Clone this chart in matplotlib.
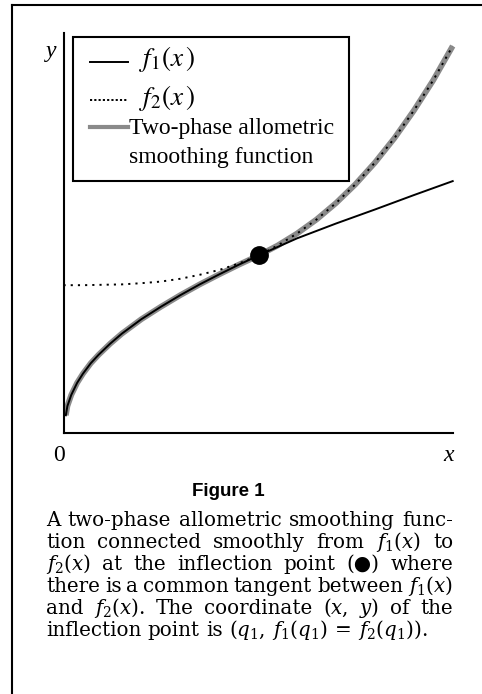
import matplotlib
matplotlib.use("Agg")
import matplotlib.pyplot as plt
from matplotlib.lines import Line2D
from matplotlib.patches import Rectangle

# curve values (axis units: x 0..1, y 0..1)
f1_x = [0.006, 0.01, 0.02, 0.035, 0.05, 0.07, 0.09, 0.12, 0.15, 0.20, 0.25, 0.30,
        0.35, 0.40, 0.45, 0.503, 0.60, 0.70, 0.80, 0.90, 1.00]
f1_y = [0.045, 0.068, 0.096, 0.126, 0.149, 0.175, 0.196, 0.224, 0.249, 0.285, 0.316, 0.345,
        0.372, 0.397, 0.421, 0.445, 0.487, 0.524, 0.559, 0.595, 0.630]
f2_x = [0.0, 0.05, 0.10, 0.15, 0.20, 0.25, 0.30, 0.35, 0.40, 0.45, 0.503, 0.55,
        0.60, 0.65, 0.70, 0.75, 0.80, 0.85, 0.90, 0.95, 1.00]
f2_y = [0.370, 0.370, 0.371, 0.372, 0.375, 0.379, 0.386, 0.396, 0.408, 0.424, 0.445, 0.469,
        0.499, 0.534, 0.575, 0.622, 0.676, 0.737, 0.806, 0.882, 0.9675]

# inflection point q1
q1_x = 0.503
q1_y = 0.445

# two-phase smoothing curve: f1 up to q1, f2 after it
smooth_x = [x for x in f1_x if x <= q1_x] + [x for x in f2_x if x > q1_x]
smooth_y = [y for x, y in zip(f1_x, f1_y) if x <= q1_x] + [y for x, y in zip(f2_x, f2_y) if x > q1_x]

W, H = 482, 694


def fx(px):
    return px / W


def fy(py):
    return 1 - py / H


fig = plt.figure(figsize=(W / 100, H / 100), dpi=100)

ax = fig.add_axes([fx(63.5), fy(433.3), (452.7 - 63.5) / W, (433.3 - 33) / H])
ax.set_xlim(0, 1)
ax.set_ylim(0, 1)
ax.patch.set_alpha(0)
for s in ["top", "right"]:
    ax.spines[s].set_visible(False)
for s in ["left", "bottom"]:
    ax.spines[s].set_linewidth(1.5)
ax.set_xticks([])
ax.set_yticks([])

grey = "#8a8a8a"
ax.plot(smooth_x, smooth_y, color=grey, lw=4.2, solid_capstyle="butt", clip_on=False, zorder=2)
ax.plot(f1_x, f1_y, color="black", lw=1.4, clip_on=False, zorder=3)
ax.plot(f2_x, f2_y, color="black", lw=1.4, linestyle=(0, (1.1, 2.6)), clip_on=False, zorder=4)
ax.plot([q1_x], [q1_y], "o", color="black", markersize=12.5, zorder=5, clip_on=False)

# axis labels
serif = "Liberation Serif"
fig.text(fx(51), fy(57), "y", fontsize=17, family=serif, style="italic", ha="center", va="baseline")
fig.text(fx(59), fy(461), "0", fontsize=17, family=serif, ha="center", va="baseline")
fig.text(fx(448.5), fy(461), "x", fontsize=17, family=serif, style="italic", ha="center", va="baseline")

# legend box
fig.add_artist(Rectangle((fx(73.3), fy(181)), fx(348.5) - fx(73.3), fy(36.7) - fy(181),
                         transform=fig.transFigure, fill=False, lw=1.5, ec="black"))
fig.add_artist(Line2D([fx(90), fx(128)], [fy(61.7)] * 2, transform=fig.transFigure,
                      color="black", lw=1.4))
fig.add_artist(Line2D([fx(90), fx(128)], [fy(100)] * 2, transform=fig.transFigure,
                      color="black", lw=1.4, linestyle=(0, (1.1, 1.1))))
fig.add_artist(Line2D([fx(90), fx(128)], [fy(126.5)] * 2, transform=fig.transFigure,
                      color=grey, lw=3))
fig.text(fx(139), fy(66.5), r"$f_1(x\,)$", fontsize=19.5, math_fontfamily="stix", va="baseline")
fig.text(fx(139), fy(105), r"$f_2(x\,)$", fontsize=19.5, math_fontfamily="stix", va="baseline")
fig.text(fx(129), fy(134), "Two-phase allometric", fontsize=17, family=serif, va="baseline")
fig.text(fx(129), fy(162.7), "smoothing function", fontsize=17, family=serif, va="baseline")

# outer frame
fig.add_artist(Line2D([fx(12), fx(482)], [fy(5)] * 2, transform=fig.transFigure, color="black", lw=1.5))
fig.add_artist(Line2D([fx(12), fx(12)], [fy(5), fy(694)], transform=fig.transFigure, color="black", lw=1.5))

# caption
fig.text(fx(228.5), fy(496), "Figure 1", fontsize=13.5, family="Liberation Sans", weight="bold",
         ha="center", va="baseline")

cap_lines = [
    ["A", "two-phase", "allometric", "smoothing", "func-"],
    ["tion", "connected", "smoothly", "from", r"$f_1(x)$", "to"],
    [r"$f_2(x)$", "at", "the", "inflection", "point", "(\u25cf)", "where"],
    ["there", "is", "a", "common", "tangent", "between", r"$f_1(x)$"],
    ["and", r"$f_2(x)$.", "The", "coordinate", r"($x$,", r"$y$)", "of", "the"],
    ["inflection", "point", "is", r"($q_1$,", r"$f_1(q_1)$", "=", r"$f_2(q_1)$)."],
]
cap_base = [526, 548, 570, 592, 614, 636.5]
cap_kw = dict(fontsize=14.3, family=["DejaVu Serif", "DejaVu Sans"], math_fontfamily="dejavuserif",
              va="baseline")
x_left, x_right = 46, 453

renderer = fig.canvas.get_renderer()
for i, (words, yb) in enumerate(zip(cap_lines, cap_base)):
    texts = [fig.text(0, fy(yb), w, **cap_kw) for w in words]
    widths = [t.get_window_extent(renderer).width for t in texts]
    if i < len(cap_lines) - 1:
        gap = ((x_right - x_left) - sum(widths)) / (len(words) - 1)
    else:
        gap = 6.5
    x = x_left
    for t, wd in zip(texts, widths):
        t.set_x(fx(x))
        x += wd + gap

fig.savefig("out.png", dpi=100)
